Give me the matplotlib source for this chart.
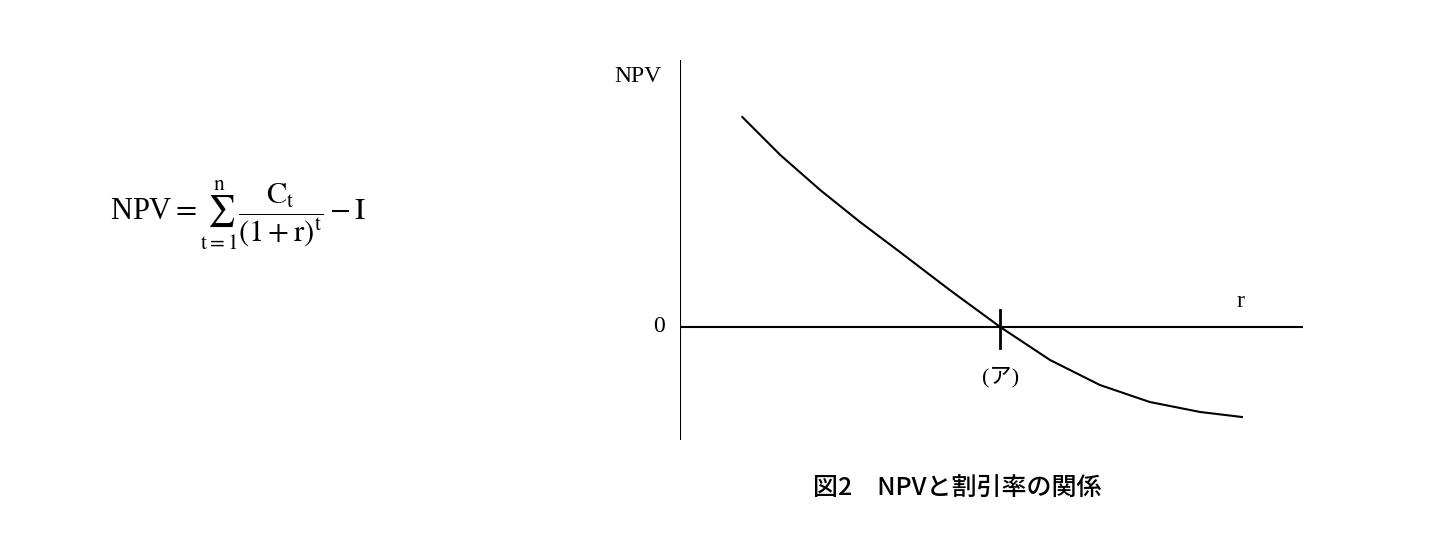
import matplotlib
matplotlib.use('Agg')
import matplotlib.pyplot as plt

# curve (r in axis fraction, NPV in arbitrary units)
r_vals = [0.10, 0.161, 0.225, 0.289, 0.353, 0.433, 0.514, 0.594, 0.674, 0.754, 0.835, 0.902]
npv_vals = [210, 172, 137, 105, 75, 37, 0, -33, -58, -75, -85, -90]
r_star = 0.514

plt.rcParams['font.family'] = ['Liberation Serif', 'Noto Sans CJK JP']
plt.rcParams['mathtext.fontset'] = 'stix'

fig = plt.figure(figsize=(14.32, 5.42), dpi=100)
W, H = 1432, 542
ax = fig.add_axes([680 / W, 1 - 440 / H, 623 / W, 380 / H])
ax.set_xlim(0, 1)
ax.set_ylim(-113, 267)
for s in ax.spines.values():
    s.set_visible(False)
ax.set_xticks([])
ax.set_yticks([])

ax.axvline(0, color='black', lw=1.5)
ax.axhline(0, color='black', lw=1.5)
ax.plot(r_vals, npv_vals, color='black', lw=1.5)
ax.plot([r_star, r_star], [-21, 17], color='black', lw=2)

ax.text(-0.03, 250, 'NPV', ha='right', va='center', fontsize=17)
ax.text(-0.025, 0, '0', ha='right', va='center', fontsize=17)
ax.text(0.9, 15, 'r', ha='center', va='bottom', fontsize=17)
ax.text(r_star, -50, '(ア)', ha='center', va='center', fontsize=16)

fig.text(110 / W, 1 - 215 / H,
         r'NPV$=\sum_{\mathrm{t=1}}^{\mathrm{n}}\dfrac{\mathrm{C_t}}{(1+\mathrm{r})^{\mathrm{t}}}-\mathrm{I}$',
         ha='left', va='center', fontsize=22)

fig.text(957 / W, 1 - 488 / H, '図2　NPVと割引率の関係', ha='center', va='center',
         fontsize=18, fontweight='medium', family=['Noto Sans CJK JP', 'DejaVu Sans'])

fig.savefig('out.png', dpi=100)
